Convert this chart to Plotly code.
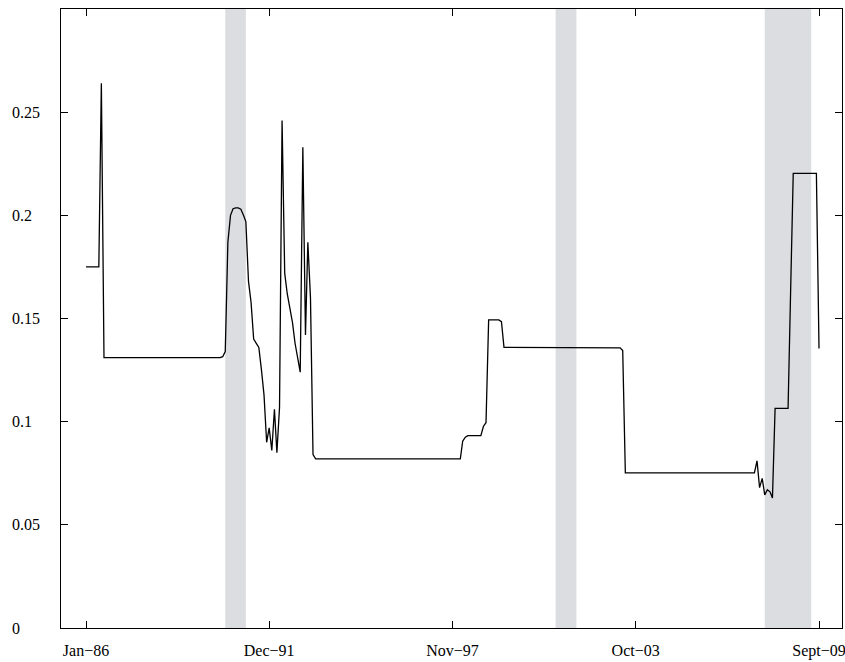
import plotly.graph_objects as go
import pandas as pd

# Monthly observations, Jan-1986 .. Sep-2009 (one row per year)
months = pd.date_range("1986-01-01", "2009-09-01", freq="MS")
values = [
    # 1986
    0.175, 0.175, 0.175, 0.175, 0.175, 0.175, 0.264, 0.131, 0.131, 0.131, 0.131, 0.131,
    # 1987
    0.131, 0.131, 0.131, 0.131, 0.131, 0.131, 0.131, 0.131, 0.131, 0.131, 0.131, 0.131,
    # 1988
    0.131, 0.131, 0.131, 0.131, 0.131, 0.131, 0.131, 0.131, 0.131, 0.131, 0.131, 0.131,
    # 1989
    0.131, 0.131, 0.131, 0.131, 0.131, 0.131, 0.131, 0.131, 0.131, 0.131, 0.131, 0.131,
    # 1990
    0.131, 0.131, 0.131, 0.131, 0.131, 0.1315, 0.134, 0.187, 0.200, 0.2032, 0.2036, 0.2036,
    # 1991
    0.203, 0.200, 0.197, 0.168, 0.158, 0.140, 0.138, 0.136, 0.125, 0.113, 0.090, 0.097,
    # 1992
    0.086, 0.106, 0.085, 0.107, 0.246, 0.172, 0.162, 0.155, 0.148, 0.138, 0.130, 0.124,
    # 1993
    0.233, 0.142, 0.187, 0.160, 0.084, 0.082, 0.082, 0.082, 0.082, 0.082, 0.082, 0.082,
    # 1994
    0.082, 0.082, 0.082, 0.082, 0.082, 0.082, 0.082, 0.082, 0.082, 0.082, 0.082, 0.082,
    # 1995
    0.082, 0.082, 0.082, 0.082, 0.082, 0.082, 0.082, 0.082, 0.082, 0.082, 0.082, 0.082,
    # 1996
    0.082, 0.082, 0.082, 0.082, 0.082, 0.082, 0.082, 0.082, 0.082, 0.082, 0.082, 0.082,
    # 1997
    0.082, 0.082, 0.082, 0.082, 0.082, 0.082, 0.082, 0.082, 0.082, 0.082, 0.082, 0.082,
    # 1998
    0.082, 0.082, 0.0905, 0.0925, 0.0932, 0.0932, 0.0932, 0.0932, 0.0932, 0.0932, 0.0978, 0.0995,
    # 1999
    0.1493, 0.1493, 0.1493, 0.1493, 0.1493, 0.1485, 0.136, 0.136, 0.136, 0.136, 0.136, 0.136,
    # 2000
    0.136, 0.136, 0.136, 0.136, 0.136, 0.136, 0.136, 0.136, 0.136, 0.136, 0.136, 0.136,
    # 2001
    0.136, 0.136, 0.136, 0.136, 0.136, 0.136, 0.136, 0.136, 0.136, 0.136, 0.136, 0.136,
    # 2002
    0.136, 0.136, 0.136, 0.136, 0.136, 0.136, 0.136, 0.136, 0.136, 0.136, 0.136, 0.136,
    # 2003
    0.136, 0.136, 0.136, 0.1358, 0.1345, 0.0752, 0.0752, 0.0752, 0.0752, 0.0752, 0.0752, 0.0752,
    # 2004
    0.0752, 0.0752, 0.0752, 0.0752, 0.0752, 0.0752, 0.0752, 0.0752, 0.0752, 0.0752, 0.0752, 0.0752,
    # 2005
    0.0752, 0.0752, 0.0752, 0.0752, 0.0752, 0.0752, 0.0752, 0.0752, 0.0752, 0.0752, 0.0752, 0.0752,
    # 2006
    0.0752, 0.0752, 0.0752, 0.0752, 0.0752, 0.0752, 0.0752, 0.0752, 0.0752, 0.0752, 0.0752, 0.0752,
    # 2007
    0.0752, 0.0752, 0.0752, 0.0752, 0.0752, 0.0752, 0.0752, 0.0752, 0.081, 0.068, 0.0725, 0.0645,
    # 2008
    0.067, 0.066, 0.063, 0.1064, 0.1064, 0.1064, 0.1064, 0.1064, 0.1064, 0.163, 0.2203, 0.2203,
    # 2009
    0.2203, 0.2203, 0.2203, 0.2203, 0.2203, 0.2203, 0.2203, 0.2203, 0.1355,
]

# NBER recession periods (shaded)
rec_start = ["1990-07-01", "2001-03-01", "2007-12-01"]
rec_end = ["1991-03-01", "2001-11-01", "2009-06-01"]

x_tickvals = ["1986-01-01", "1991-12-01", "1997-11-01", "2003-10-01", "2009-09-01"]
x_ticktext = ["Jan\u221286", "Dec\u221291", "Nov\u221297", "Oct\u221203", "Sept\u221209"]
y_tickvals = [0, 0.05, 0.10, 0.15, 0.20, 0.25]
y_ticktext = ["0", "0.05", "0.1", "0.15", "0.2", "0.25"]

fig = go.Figure()
for s, e in zip(rec_start, rec_end):
    fig.add_shape(type="rect", xref="x", yref="paper", x0=s, x1=e, y0=0, y1=1,
                  fillcolor="#dcdde0", line_width=0, layer="below")

fig.add_trace(go.Scatter(x=months, y=values, mode="lines",
                         line=dict(color="black", width=1.3), showlegend=False))

font = dict(family="Liberation Serif, Times New Roman, serif", size=16, color="black")

# y tick labels, left-aligned as in the reference
for v, t in zip(y_tickvals, y_ticktext):
    fig.add_annotation(x=0, xref="paper", y=v, yref="y", text=t, showarrow=False,
                       xanchor="left", yanchor="middle", xshift=-51, font=font)

fig.update_layout(
    width=845, height=662,
    margin=dict(l=61, r=3, t=9, b=34, autoexpand=False),
    plot_bgcolor="white", paper_bgcolor="white",
    font=font,
)
fig.update_xaxes(
    type="date", range=["1985-03-12", "2010-05-30"],
    tickmode="array", tickvals=x_tickvals, ticktext=x_ticktext,
    ticks="inside", ticklen=7, tickcolor="black", tickwidth=1,
    showline=True, linecolor="black", linewidth=1, mirror="ticks",
    showgrid=False, zeroline=False, tickfont=font, ticklabelstandoff=8,
    automargin=False, ticklabeloverflow="allow",
)
fig.update_yaxes(
    range=[0, 0.3],
    tickmode="array", tickvals=y_tickvals, ticktext=y_ticktext,
    ticks="inside", ticklen=7, tickcolor="black", tickwidth=1,
    showline=True, linecolor="black", linewidth=1, mirror="ticks",
    showgrid=False, zeroline=False, showticklabels=False, automargin=False,
)
fig.write_html("out.html",
               config={"displayModeBar": False},
               post_script="document.body.style.margin='0px';"
                           "document.body.style.overflow='hidden';")
